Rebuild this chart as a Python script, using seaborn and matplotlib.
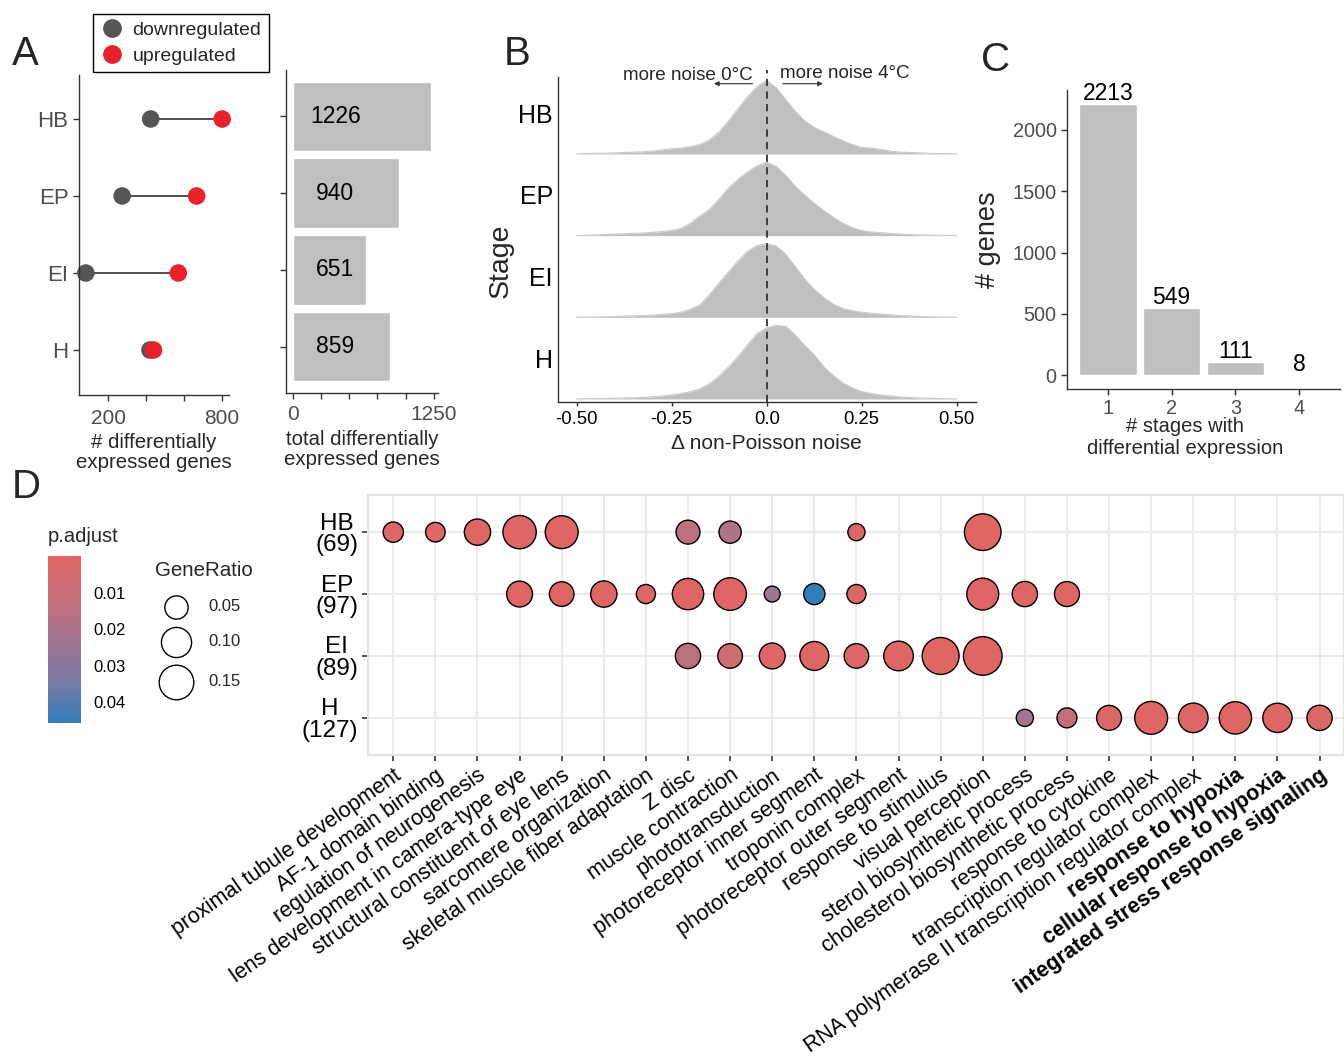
import numpy as np
import pandas as pd
import seaborn as sns
import matplotlib.pyplot as plt
from matplotlib.colors import LinearSegmentedColormap, Normalize
from matplotlib.lines import Line2D
from matplotlib.cm import ScalarMappable

sns.set_style("ticks")
plt.rcParams["font.family"] = ["Liberation Sans", "DejaVu Sans"]

# ---------------- data ----------------
# A: differentially expressed genes per stage
stages = ["HB", "EP", "EI", "H"]
down_genes = [424, 273, 81, 420]
up_genes = [802, 667, 570, 439]
total_genes = [1226, 940, 651, 859]

# B: delta non-Poisson noise densities (relative height, read at 0.025 steps from -0.5 to 0.5)
noise_grid = np.arange(-20, 21) * 0.025
dens_HB = [0.0, 0.005, 0.01, 0.01, 0.015, 0.02, 0.025, 0.03, 0.04, 0.055, 0.07, 0.08, 0.10, 0.13,
           0.19, 0.30, 0.45, 0.62, 0.78, 0.92, 1.00, 0.90, 0.74, 0.58, 0.45, 0.36, 0.30, 0.24,
           0.18, 0.13, 0.09, 0.08, 0.06, 0.04, 0.025, 0.02, 0.015, 0.01, 0.005, 0.005, 0.0]
dens_EP = [0.0, 0.005, 0.01, 0.015, 0.02, 0.025, 0.03, 0.035, 0.045, 0.055, 0.07, 0.10, 0.17, 0.27,
           0.36, 0.50, 0.65, 0.77, 0.87, 0.95, 1.00, 0.94, 0.82, 0.67, 0.55, 0.44, 0.34, 0.25,
           0.17, 0.11, 0.07, 0.05, 0.04, 0.03, 0.02, 0.015, 0.01, 0.008, 0.005, 0.003, 0.0]
dens_EI = [0.0, 0.003, 0.005, 0.008, 0.01, 0.015, 0.02, 0.025, 0.03, 0.04, 0.05, 0.07, 0.11, 0.17,
           0.31, 0.47, 0.62, 0.77, 0.90, 0.98, 1.00, 0.97, 0.86, 0.69, 0.52, 0.38, 0.27, 0.18,
           0.12, 0.09, 0.07, 0.055, 0.045, 0.035, 0.025, 0.018, 0.012, 0.008, 0.005, 0.003, 0.0]
dens_H = [0.0, 0.003, 0.005, 0.007, 0.01, 0.013, 0.017, 0.022, 0.03, 0.04, 0.055, 0.075, 0.10, 0.14,
          0.21, 0.31, 0.44, 0.58, 0.74, 0.89, 0.97, 1.00, 0.99, 0.87, 0.73, 0.60, 0.44, 0.32,
          0.22, 0.15, 0.10, 0.075, 0.055, 0.04, 0.03, 0.02, 0.015, 0.01, 0.006, 0.003, 0.0]

# C: genes by number of stages with differential expression
n_stages = ["1", "2", "3", "4"]
n_genes = [2213, 549, 111, 8]

# D: GO enrichment
stage_labels = ["HB\n(69)", "EP\n(97)", "EI\n(89)", "H\n(127)"]
go_terms = [
    "proximal tubule development", "AF-1 domain binding", "regulation of neurogenesis",
    "lens development in camera-type eye", "structural constituent of eye lens",
    "sarcomere organization", "skeletal muscle fiber adaptation", "Z disc",
    "muscle contraction", "phototransduction", "photoreceptor inner segment",
    "troponin complex", "photoreceptor outer segment", "response to stimulus",
    "visual perception", "sterol biosynthetic process", "cholesterol biosynthetic process",
    "response to cytokine", "transcription regulator complex",
    "RNA polymerase II transcription regulator complex", "response to hypoxia",
    "cellular response to hypoxia", "integrated stress response signaling",
]
bold_terms = ["response to hypoxia", "cellular response to hypoxia",
              "integrated stress response signaling"]

dot_stage = (["HB"] * 9 + ["EP"] * 12 + ["EI"] * 8 + ["H"] * 8)
dot_term = [
    # HB
    "proximal tubule development", "AF-1 domain binding", "regulation of neurogenesis",
    "lens development in camera-type eye", "structural constituent of eye lens", "Z disc",
    "muscle contraction", "troponin complex", "visual perception",
    # EP
    "lens development in camera-type eye", "structural constituent of eye lens",
    "sarcomere organization", "skeletal muscle fiber adaptation", "Z disc", "muscle contraction",
    "phototransduction", "photoreceptor inner segment", "troponin complex", "visual perception",
    "sterol biosynthetic process", "cholesterol biosynthetic process",
    # EI
    "Z disc", "muscle contraction", "phototransduction", "photoreceptor inner segment",
    "troponin complex", "photoreceptor outer segment", "response to stimulus", "visual perception",
    # H
    "sterol biosynthetic process", "cholesterol biosynthetic process", "response to cytokine",
    "transcription regulator complex", "RNA polymerase II transcription regulator complex",
    "response to hypoxia", "cellular response to hypoxia", "integrated stress response signaling",
]
gene_ratio = [
    0.038, 0.036, 0.068, 0.134, 0.129, 0.053, 0.045, 0.032, 0.177,
    0.065, 0.057, 0.068, 0.035, 0.112, 0.126, 0.0315, 0.041, 0.035, 0.118, 0.061, 0.059,
    0.061, 0.057, 0.065, 0.089, 0.057, 0.095, 0.181, 0.206,
    0.032, 0.037, 0.059, 0.129, 0.095, 0.123, 0.092, 0.061,
]
p_adjust = [
    0.001, 0.001, 0.001, 0.0005, 0.0005, 0.015, 0.019, 0.002, 0.0002,
    0.001, 0.001, 0.001, 0.002, 0.0005, 0.0005, 0.024, 0.0457, 0.002, 0.0005, 0.001, 0.001,
    0.015, 0.0065, 0.001, 0.001, 0.002, 0.0005, 0.0001, 0.00001,
    0.022, 0.0115, 0.002, 0.0005, 0.001, 0.0005, 0.001, 0.002,
]

# ---------------- layout helpers ----------------
W, H = 1344, 1061
fig = plt.figure(figsize=(W / 100, H / 100), dpi=100)


def box(x0, y0, x1, y1):
    return [x0 / W, 1 - y1 / H, (x1 - x0) / W, (y1 - y0) / H]


DARK = "#333333"
TICKGREY = "#4D4D4D"
BARGREY = "#BEBFC1"


def clean(ax, labelcolor=TICKGREY):
    sns.despine(ax=ax)
    for s in ["left", "bottom"]:
        ax.spines[s].set_color(DARK)
        ax.spines[s].set_linewidth(1.0)
    ax.tick_params(color=DARK, labelcolor=labelcolor, length=4, width=1)


# ---------------- A: lollipop ----------------
axA = fig.add_axes(box(79, 75, 229, 395))
stage_pos = {s: i for i, s in enumerate(stages)}
dfA = pd.DataFrame({
    "stage": stages * 2,
    "genes": down_genes + up_genes,
    "direction": ["downregulated"] * 4 + ["upregulated"] * 4,
})
dfA["pos"] = dfA["stage"].map(stage_pos)
dir_colors = {"downregulated": "#555555", "upregulated": "#E8212B"}
axA.hlines([stage_pos[s] for s in stages], down_genes, up_genes, color=DARK, lw=1.2, zorder=1)
sns.scatterplot(data=dfA, x="genes", y="pos", hue="direction", palette=dir_colors,
                s=160, linewidth=0, legend=False, ax=axA, zorder=2, clip_on=False)
axA.set_xlim(45, 838)
axA.set_ylim(3.584, -0.571)
axA.set_yticks(range(4), stages, fontsize=16)
axA.set_xticks([200, 400, 600, 800], ["200", "", "", "800"], fontsize=15)
axA.set_xlabel("# differentially\nexpressed genes", fontsize=14.7, labelpad=4, linespacing=1.05)
axA.set_ylabel("")
clean(axA)
axA.tick_params(axis="x", pad=6)

handles = [Line2D([], [], marker="o", ls="", color=c, markersize=12.5, label=k)
           for k, c in dir_colors.items()]
fig.legend(handles=handles, loc="upper left", bbox_to_anchor=(93 / W, 1 - 14 / H),
           frameon=True, fancybox=False, edgecolor="black", fontsize=14,
           handletextpad=0.45, borderpad=0.38, labelspacing=0.42, borderaxespad=0,
           handlelength=1.2, framealpha=1)

# ---------------- A: totals ----------------
axT = fig.add_axes(box(286, 70, 438, 393))
dfT = pd.DataFrame({"stage": stages, "total": total_genes})
sns.barplot(data=dfT, x="total", y="stage", order=stages, color=BARGREY, saturation=1,
            width=0.9, ax=axT)
for i, v in enumerate(total_genes):
    axT.text(375, i, str(v), ha="center", va="center", fontsize=16.5, color="black")
axT.set_xlim(-61.3, 1287.3)
axT.set_ylim(3.6, -0.6)
axT.set_xticks([0, 250, 500, 750, 1000, 1250], ["0", "", "", "", "", "1250"], fontsize=15)
axT.set_yticks(range(4), [""] * 4)
axT.set_xlabel("total differentially\nexpressed genes", fontsize=14.7, labelpad=4,
               linespacing=1.05)
axT.set_ylabel("")
clean(axT)
axT.tick_params(axis="x", pad=5)

# ---------------- B: ridges ----------------
axB = fig.add_axes(box(557.7, 77, 975.7, 402))
ridges = {"HB": dens_HB, "EP": dens_EP, "EI": dens_EI, "H": dens_H}
base = {"H": 0, "EI": 1, "EP": 2, "HB": 3}
for k, st in enumerate(["HB", "EP", "EI", "H"]):
    y0 = base[st]
    y = y0 + 0.9 * np.asarray(ridges[st])
    axB.fill_between(noise_grid, y0, y, color=BARGREY, lw=0, zorder=2 + k)
    axB.plot(noise_grid, y, color="#C9CACC", lw=0.8, zorder=2 + k)
axB.plot([0, 0], [-0.037, 4.03], ls=(0, (4, 3)), color=DARK, lw=1.3, zorder=10, clip_on=False)
axB.set_xlim(-0.55, 0.55)
axB.set_ylim(-0.037, 3.942)
axB.set_xticks([-0.5, -0.25, 0, 0.25, 0.5], ["-0.50", "-0.25", "0.0", "0.25", "0.50"],
               fontsize=13.3)
axB.set_yticks([base[s] + 0.5 for s in stages], stages, fontsize=18)
axB.set_xlabel("\u0394 non-Poisson noise", fontsize=15, labelpad=4)
axB.set_ylabel("Stage", fontsize=20.5)
axB.yaxis.set_label_coords(-0.105, 0.435)
clean(axB, labelcolor="black")
axB.tick_params(axis="y", length=0)
axB.tick_params(axis="x", length=3)
axB.text(-0.036, 3.965, "more noise 0\u00b0C", ha="right", va="center", fontsize=13.6)
axB.text(0.035, 3.985, "more noise 4\u00b0C", ha="left", va="center", fontsize=13.6)
axB.annotate("", xy=(-0.146, 3.86), xytext=(-0.03, 3.86),
             arrowprops=dict(arrowstyle="-|>", lw=0.8, color=DARK, mutation_scale=7))
axB.annotate("", xy=(0.155, 3.86), xytext=(0.035, 3.86),
             arrowprops=dict(arrowstyle="-|>", lw=0.8, color=DARK, mutation_scale=7))

# ---------------- C: bars ----------------
axC = fig.add_axes(box(1067, 90, 1340, 389))
dfC = pd.DataFrame({"stages": n_stages, "genes": n_genes})
sns.barplot(data=dfC, x="stages", y="genes", color=BARGREY, saturation=1, width=0.9, ax=axC)
axC.bar_label(axC.containers[0], fontsize=16.5, padding=-1, color="black")
axC.set_xlim(-0.64, 3.64)
axC.set_ylim(-110.65, 2323.65)
axC.set_yticks([0, 500, 1000, 1500, 2000])
axC.tick_params(labelsize=14.3)
axC.set_xlabel("# stages with\ndifferential expression", fontsize=14.5, labelpad=0,
               linespacing=1.15)
axC.xaxis.set_label_coords(0.432, -0.095, transform=axC.transAxes)
axC.xaxis.label.set_va("top")
axC.set_ylabel("# genes", fontsize=19.5, labelpad=8)
clean(axC)

# ---------------- D: GO dotplot ----------------
axD = fig.add_axes(box(368, 495, 1344, 755))
dfD = pd.DataFrame({"stage": dot_stage, "term": dot_term,
                    "GeneRatio": gene_ratio, "p.adjust": p_adjust})
dfD["x"] = dfD["term"].map({t: i for i, t in enumerate(go_terms)})
dfD["y"] = dfD["stage"].map(stage_pos)

gr_min, gr_max = min(gene_ratio), max(gene_ratio)


def ratio_area(v):
    # ggplot-like area scale: diameter grows with sqrt of rescaled value
    d_px = 17.3 + 22.7 * np.sqrt((v - gr_min) / (gr_max - gr_min))
    return ((d_px - 1.4) * 0.72) ** 2


p_cmap = LinearSegmentedColormap.from_list(
    "padj", ["#E06663", "#C46E79", "#A3758F", "#7A7AA4", "#327EBA"])
p_norm = Normalize(vmin=min(p_adjust), vmax=max(p_adjust))

sns.scatterplot(data=dfD, x="x", y="y", hue="p.adjust", palette=p_cmap, hue_norm=p_norm,
                size="GeneRatio", sizes={v: ratio_area(v) for v in set(gene_ratio)},
                edgecolor="black", linewidth=1.0, legend=False, ax=axD, zorder=3)
axD.set_xlim(-0.6, 22.58)
axD.set_ylim(3.6, -0.6)
axD.set_axisbelow(True)
axD.grid(True, color="#EBEBEB", lw=1.5)
for s in axD.spines.values():
    s.set_color("#E3E3E3")
    s.set_linewidth(1.5)
axD.set_xticks(range(len(go_terms)))
axD.set_xticklabels(go_terms, rotation=35, ha="right", va="top", rotation_mode="anchor",
                    fontsize=15.5)
for lbl in axD.get_xticklabels():
    if lbl.get_text() in bold_terms:
        lbl.set_fontweight("bold")
axD.set_yticks(range(4), stage_labels, fontsize=17.5, linespacing=0.95)
for lbl in axD.get_yticklabels():
    lbl.set_multialignment("center")
axD.tick_params(color=DARK, labelcolor="black", length=4, width=1.2, pad=3)
axD.set_xlabel("")
axD.set_ylabel("")

# colorbar legend
cax = fig.add_axes(box(47.7, 556, 80.7, 723))
sm = ScalarMappable(norm=p_norm, cmap=p_cmap)
cb = fig.colorbar(sm, cax=cax)
cb.outline.set_visible(False)
cax.invert_yaxis()
cb.set_ticks([0.01, 0.02, 0.03, 0.04], labels=["0.01", "0.02", "0.03", "0.04"])
cax.tick_params(direction="in", color="white", length=5, width=1, labelsize=12,
                left=True, right=True, pad=9, labelcolor="black")

# overlay for panel letters and size legend
ov = fig.add_axes([0, 0, 1, 1])
ov.set_xlim(0, W)
ov.set_ylim(H, 0)
ov.axis("off")
for letter, (lx, ly) in {"A": (25, 54), "B": (517, 54), "C": (996, 60), "D": (26, 487)}.items():
    ov.text(lx, ly, letter, fontsize=29, ha="center", va="center")
ov.text(48, 537, "p.adjust", fontsize=14.5, ha="left", va="center")
ov.text(155, 570, "GeneRatio", fontsize=14.8, ha="left", va="center")
for v, yy in zip([0.05, 0.10, 0.15], [606.7, 641.7, 681.7]):
    ov.scatter(176, yy, s=ratio_area(v), facecolor="white", edgecolor="black", lw=1.0)
    ov.text(208, yy, f"{v:.2f}", fontsize=12, ha="left", va="center")

fig.savefig("out.png", dpi=100, facecolor="white")
